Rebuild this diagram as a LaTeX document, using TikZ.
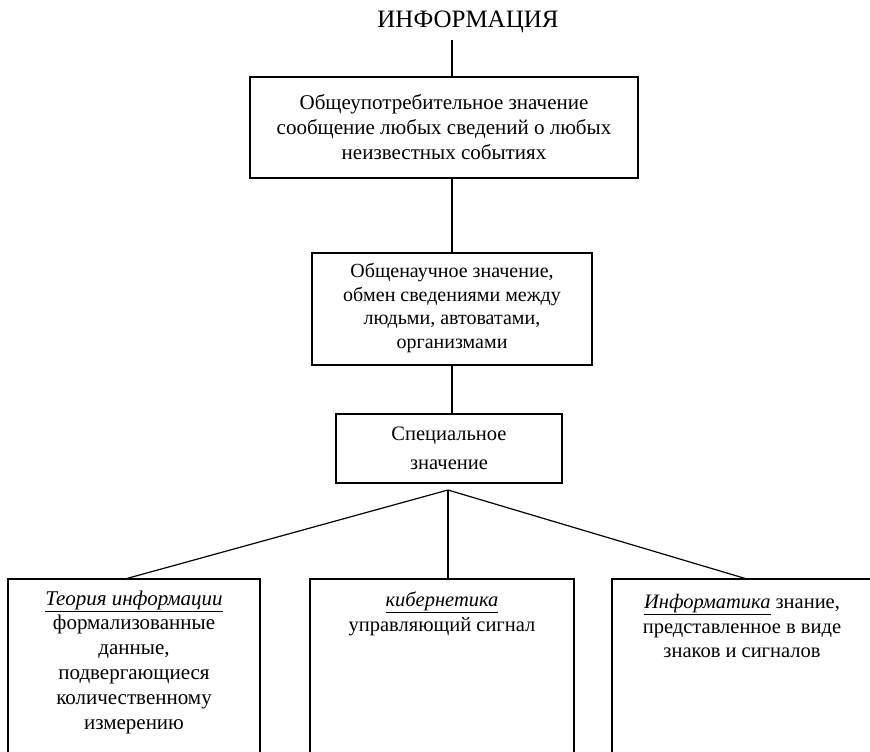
\documentclass[tikz,border=0pt]{standalone}
\usepackage{fontspec}
\setmainfont{Liberation Serif}
\begin{document}
\begin{tikzpicture}[x=1pt,y=-1pt,
  box/.style={draw, line width=1.2pt},
  txt/.style={align=center, inner sep=0pt, font=\fontsize{20.5}{24.5}\selectfont},
  conn/.style={line width=1.2pt}]
\useasboundingbox (0,0) rectangle (870,752);
\clip (0,0) rectangle (870,752);
% title
\node[inner sep=0pt, font=\fontsize{25}{29}\selectfont] (title) at (468,22) {ИНФОРМАЦИЯ};
\coordinate (tb) at (452,40);
% box 1
\draw[box] (250,77) rectangle (638,178);
\node[txt, font=\fontsize{21}{25}\selectfont] (t1) at (444,127) {Общеупотребительное значение\\сообщение любых сведений о любых\\неизвестных событиях};
\coordinate (b1t) at (452,77);
\coordinate (b1b) at (452,178);
% box 2
\draw[box] (312,253) rectangle (592,365);
\node[txt, font=\fontsize{20}{23.5}\selectfont] (t2) at (452,308) {Общенаучное значение,\\обмен сведениями между\\людьми, автоватами,\\организмами};
\coordinate (b2t) at (452,253);
\coordinate (b2b) at (452,365);
% box 3
\draw[box] (336,414) rectangle (562,483);
\node[txt, font=\fontsize{20.5}{29}\selectfont] (t3) at (449,448) {Специальное\\значение};
\coordinate (b3t) at (452,414);
\coordinate (apex) at (448,490);
% bottom boxes
\draw[box] (8,760) -- (8,579) -- (260,579) -- (260,760);
\draw[box] (310,760) -- (310,579) -- (574,579) -- (574,760);
\draw[box] (612,760) -- (612,579) -- (880,579);
\coordinate (l1) at (125,579);
\coordinate (l2) at (448,579);
\coordinate (l3) at (747,579);
\node[txt, font=\fontsize{21}{24.8}\selectfont] (t4) at (134,662) {\underline{\textit{Теория информации}}\\формализованные\\данные,\\подвергающиеся\\количественному\\измерению};
\node[txt] (t5) at (442,614) {\underline{\textit{кибернетика}}\\управляющий сигнал};
\node[txt] (t6) at (742,626) {\underline{\textit{Информатика}} знание,\\представленное в виде\\знаков и сигналов};
% connectors
\draw[conn] (tb) -- (b1t);
\draw[conn] (b1b) -- (b2t);
\draw[conn] (b2b) -- (b3t);
\draw[conn] (apex) -- (l1);
\draw[conn] (apex) -- (l2);
\draw[conn] (apex) -- (l3);
\end{tikzpicture}
\end{document}
